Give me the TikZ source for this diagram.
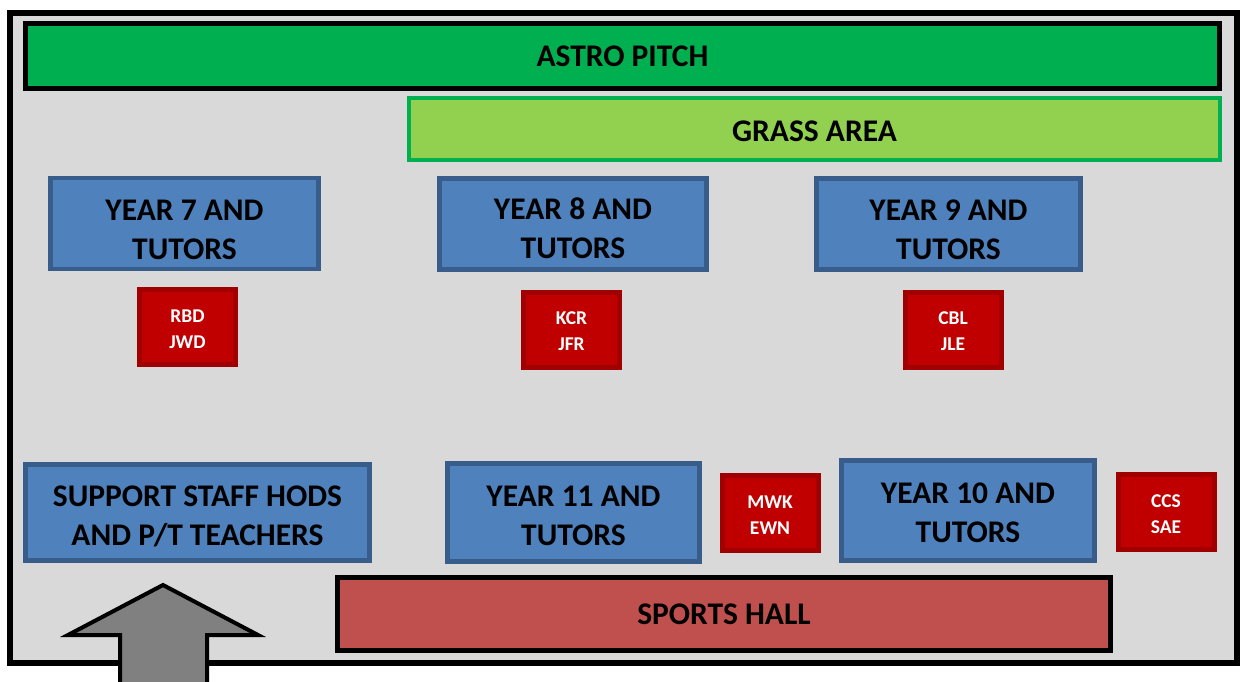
\documentclass[tikz,border=0pt]{standalone}
\usepackage{fontspec}
\setmainfont{Carlito}
\definecolor{frame}{HTML}{D9D9D9}
\definecolor{astro}{HTML}{00B050}
\definecolor{grass}{HTML}{92D050}
\definecolor{blueF}{HTML}{4F81BD}
\definecolor{blueB}{HTML}{385D8A}
\definecolor{redF}{HTML}{C00000}
\definecolor{redB}{HTML}{A00000}
\definecolor{hall}{HTML}{C0504D}
\definecolor{arrowF}{HTML}{808080}
\newcommand\lift[1]{\rule{0pt}{#1}}
\begin{document}
\begin{tikzpicture}[x=1pt,y=-1pt,
  big/.style={font=\fontsize{31.5}{39}\selectfont\bfseries, align=center, inner sep=0pt},
  yearbox/.style={big, draw=blueB, fill=blueF, line width=4.5pt},
  tag/.style={draw=redB, fill=redF, line width=5pt, text=white, align=center, inner sep=0pt,
    font=\fontsize{19.5}{26}\selectfont\bfseries, minimum width=96pt, minimum height=75pt},
  banner/.style={big, draw=black, line width=5pt}]
\useasboundingbox (0,0) rectangle (1242,682);
\fill[white] (0,0) rectangle (1242,682);
\draw[line width=6pt, fill=frame] (10,13) rectangle (1237,663);

\node[banner, fill=astro, minimum width=1194pt, minimum height=65pt] (astro) at (622.5,56.5) {ASTRO PITCH};
\node[big, draw=astro, fill=grass, line width=4pt, minimum width=811pt, minimum height=62pt] (grass) at (814.5,129) {\lift{24.5pt}GRASS AREA};

\node[yearbox, minimum width=268pt, minimum height=91pt] (y7) at (184.5,223.5) {\lift{32.5pt}YEAR 7 AND\\TUTORS};
\node[yearbox, minimum width=267pt, minimum height=91pt] (y8) at (573,224) {\lift{30.5pt}YEAR 8 AND\\TUTORS};
\node[yearbox, minimum width=264pt, minimum height=91pt] (y9) at (948.5,224) {\lift{32.5pt}YEAR 9 AND\\TUTORS};

\node[tag] (t7) at (187.5,327) {\lift{16.5pt}RBD\\JWD};
\node[tag] (t8) at (571.5,330) {\lift{14.5pt}KCR\\JFR};
\node[tag] (t9) at (953,330) {\lift{14.5pt}CBL\\JLE};

\node[yearbox, minimum width=344pt, minimum height=96pt] (sup) at (197.5,512.5) {\lift{28.5pt}SUPPORT STAFF HODS\\AND P/T TEACHERS};
\node[yearbox, minimum width=252pt, minimum height=98pt] (y11) at (573.5,512.5) {\lift{26.5pt}YEAR 11 AND\\TUTORS};
\node[tag] (t11) at (770,513) {\lift{16.5pt}MWK\\EWN};
\node[yearbox, minimum width=253pt, minimum height=100pt] (y10) at (968,510.5) {\lift{24.5pt}YEAR 10 AND\\TUTORS};
\node[tag] (t10) at (1166,511.5) {\lift{18.5pt}CCS\\SAE};

\node[banner, fill=hall, minimum width=773pt, minimum height=73pt] (hall) at (724,614) {SPORTS HALL};

\draw[line width=4pt, fill=arrowF, line join=miter]
  (120,690) -- (120,635) -- (68,635) -- (163,585) -- (258,635) -- (207,635) -- (207,690) -- cycle;
\end{tikzpicture}
\end{document}
